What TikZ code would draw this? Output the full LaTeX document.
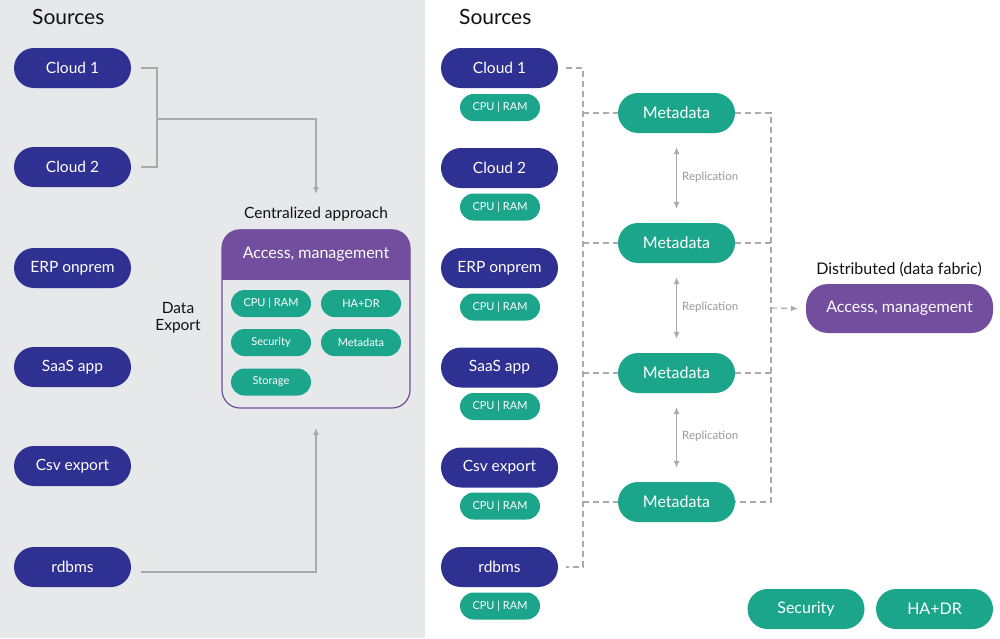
\documentclass[tikz,border=0pt]{standalone}
\usepackage{fontspec}
\setmainfont{Lato}
\usetikzlibrary{arrows.meta}
\definecolor{navy}{HTML}{2E3192}
\definecolor{teal}{HTML}{1BA68B}
\definecolor{purp}{HTML}{734D9E}
\definecolor{bggrey}{HTML}{E7E8EA}
\definecolor{lgrey}{HTML}{AAAAAA}
\definecolor{txt}{HTML}{111111}
\tikzset{
  src/.style={fill=navy, text=white, rounded corners=20pt, minimum width=117pt, minimum height=40pt, inner sep=0pt, font=\fontsize{15.5}{18}\selectfont},
  small/.style={fill=teal, text=white, rounded corners=13.5pt, minimum width=80pt, minimum height=27pt, inner sep=0pt, font=\fontsize{11}{13}\selectfont},
  meta/.style={fill=teal, text=white, rounded corners=20pt, minimum width=117pt, minimum height=40pt, inner sep=0pt, font=\fontsize{16}{18}\selectfont},
  title/.style={text=txt, font=\fontsize{21}{24}\selectfont, inner sep=0pt},
  lbl/.style={text=txt, font=\fontsize{15.5}{18}\selectfont, inner sep=0pt},
  conn/.style={draw=lgrey, line width=1.2pt},
  dconn/.style={draw=lgrey, line width=1.1pt, dash pattern=on 6pt off 4pt},
  tip/.style={-{Latex[length=7pt,width=6pt]}},
  rep/.style={text=lgrey!90!black, font=\fontsize{11.5}{13}\selectfont, inner sep=0pt}
}
\begin{document}
\begin{tikzpicture}[x=1pt,y=-1pt]
\useasboundingbox (0,0) rectangle (1000,638);
\fill[white] (0,0) rectangle (1000,638);
\fill[bggrey] (0,0) rectangle (425,638);

% ---------- left panel ----------
\node[title, anchor=west] (srcL) at (32,17) {Sources};
\node[src] (L1) at (72.5,68) {Cloud 1};
\node[src] (L2) at (72.5,167) {Cloud 2};
\node[src] (L3) at (72.5,268) {ERP onprem};
\node[src] (L4) at (72.5,367) {SaaS app};
\node[src] (L5) at (72.5,466) {Csv export};
\node[src] (L6) at (72.5,567) {rdbms};

\node[lbl, align=center] (dexp) at (178,317.5) {Data\\[-1pt]Export};
\node[lbl] (capp) at (316,214) {Centralized approach};

% centralized box
\node[draw=purp, line width=1.2pt, fill=bggrey, rounded corners=18pt, minimum width=188pt, minimum height=178pt, inner sep=0pt] (cbox) at (316,319) {};
\begin{scope}
  \clip (222,229) rectangle (411,279);
  \fill[purp, rounded corners=18pt] (222,229.4) rectangle (410,330);
\end{scope}
\node[text=white, font=\fontsize{16}{18}\selectfont, inner sep=0pt] (chead) at (316,254) {Access, management};
\node[small] (cc1) at (271,303.5) {CPU | RAM};
\node[small] (cc2) at (361,303.5) {HA+DR};
\node[small] (cc3) at (271,342.5) {Security};
\node[small] (cc4) at (361,342.5) {Metadata};
\node[small] (cc5) at (271,382) {Storage};

% left connectors
\coordinate (j1) at (157,119);
\coordinate (ctop) at (316,194);
\coordinate (cbot) at (316,428);
\draw[conn] ([xshift=10pt]L1.east) -- (157,68) -- (157,167) -- ([xshift=10pt]L2.east);
\draw[conn, tip] (j1) -- (316,119) -- (ctop);
\draw[conn, tip] ([xshift=10pt,yshift=-5pt]L6.east) -- (316,572) -- (cbot);

% ---------- right panel ----------
\node[title, anchor=west] (srcR) at (459,17) {Sources};
\node[src] (R1) at (499.5,68) {Cloud 1};
\node[small] (r1) at (500,107.5) {CPU | RAM};
\node[src] (R2) at (499.5,168) {Cloud 2};
\node[small] (r2) at (500,207) {CPU | RAM};
\node[src] (R3) at (499.5,268) {ERP onprem};
\node[small] (r3) at (500,307) {CPU | RAM};
\node[src] (R4) at (499.5,367.5) {SaaS app};
\node[small] (r4) at (500,406.5) {CPU | RAM};
\node[src] (R5) at (499.5,467.5) {Csv export};
\node[small] (r5) at (500,506) {CPU | RAM};
\node[src] (R6) at (499.5,567) {rdbms};
\node[small] (r6) at (500,606) {CPU | RAM};

\node[meta] (M1) at (676.5,113) {Metadata};
\node[meta] (M2) at (676.5,243) {Metadata};
\node[meta] (M3) at (676.5,373) {Metadata};
\node[meta] (M4) at (676.5,502) {Metadata};

% replication
\draw[conn, {Latex[length=7pt,width=6pt]}-{Latex[length=7pt,width=6pt]}] ([yshift=-14pt]M1.south) -- ([yshift=14pt]M2.north);
\draw[conn, {Latex[length=7pt,width=6pt]}-{Latex[length=7pt,width=6pt]}] ([yshift=-14pt]M2.south) -- ([yshift=14pt]M3.north);
\draw[conn, {Latex[length=7pt,width=6pt]}-{Latex[length=7pt,width=6pt]}] ([yshift=-14pt]M3.south) -- ([yshift=14pt]M4.north);
\node[rep, anchor=west] (rp1) at (682,177) {Replication};
\node[rep, anchor=west] (rp2) at (682,307) {Replication};
\node[rep, anchor=west] (rp3) at (682,436) {Replication};

% distributed
\node[lbl, font=\fontsize{16}{18}\selectfont] (dlab) at (899,269) {Distributed (data fabric)};
\node[fill=purp, text=white, rounded corners=22pt, minimum width=187pt, minimum height=49pt, inner sep=0pt, font=\fontsize{16}{18}\selectfont] (D) at (899.5,308.5) {Access, management};

% dashed connectors
\coordinate (bt) at (583,68);
\coordinate (bb) at (583,567);
\coordinate (rt) at (771,113);
\coordinate (rb) at (771,502);
\coordinate (rm) at (771,308);
\draw[dconn] ([xshift=8pt]R1.east) -- (bt) -- (bb) -- ([xshift=8pt]R6.east);
\draw[dconn] (583,113) -- (M1.west);
\draw[dconn] (583,243) -- (M2.west);
\draw[dconn] (583,373) -- (M3.west);
\draw[dconn] (583,502) -- (M4.west);
\draw[dconn] (M1.east) -- (rt) -- (rb) -- (M4.east);
\draw[dconn] (M2.east) -- (771,243);
\draw[dconn] (M3.east) -- (771,373);
\draw[dconn, tip] (rm) -- ([xshift=-8pt]D.west);

% bottom right
\node[meta] (sec) at (806,609) {Security};
\node[meta] (ha) at (934.5,609) {HA+DR};
\end{tikzpicture}
\end{document}
